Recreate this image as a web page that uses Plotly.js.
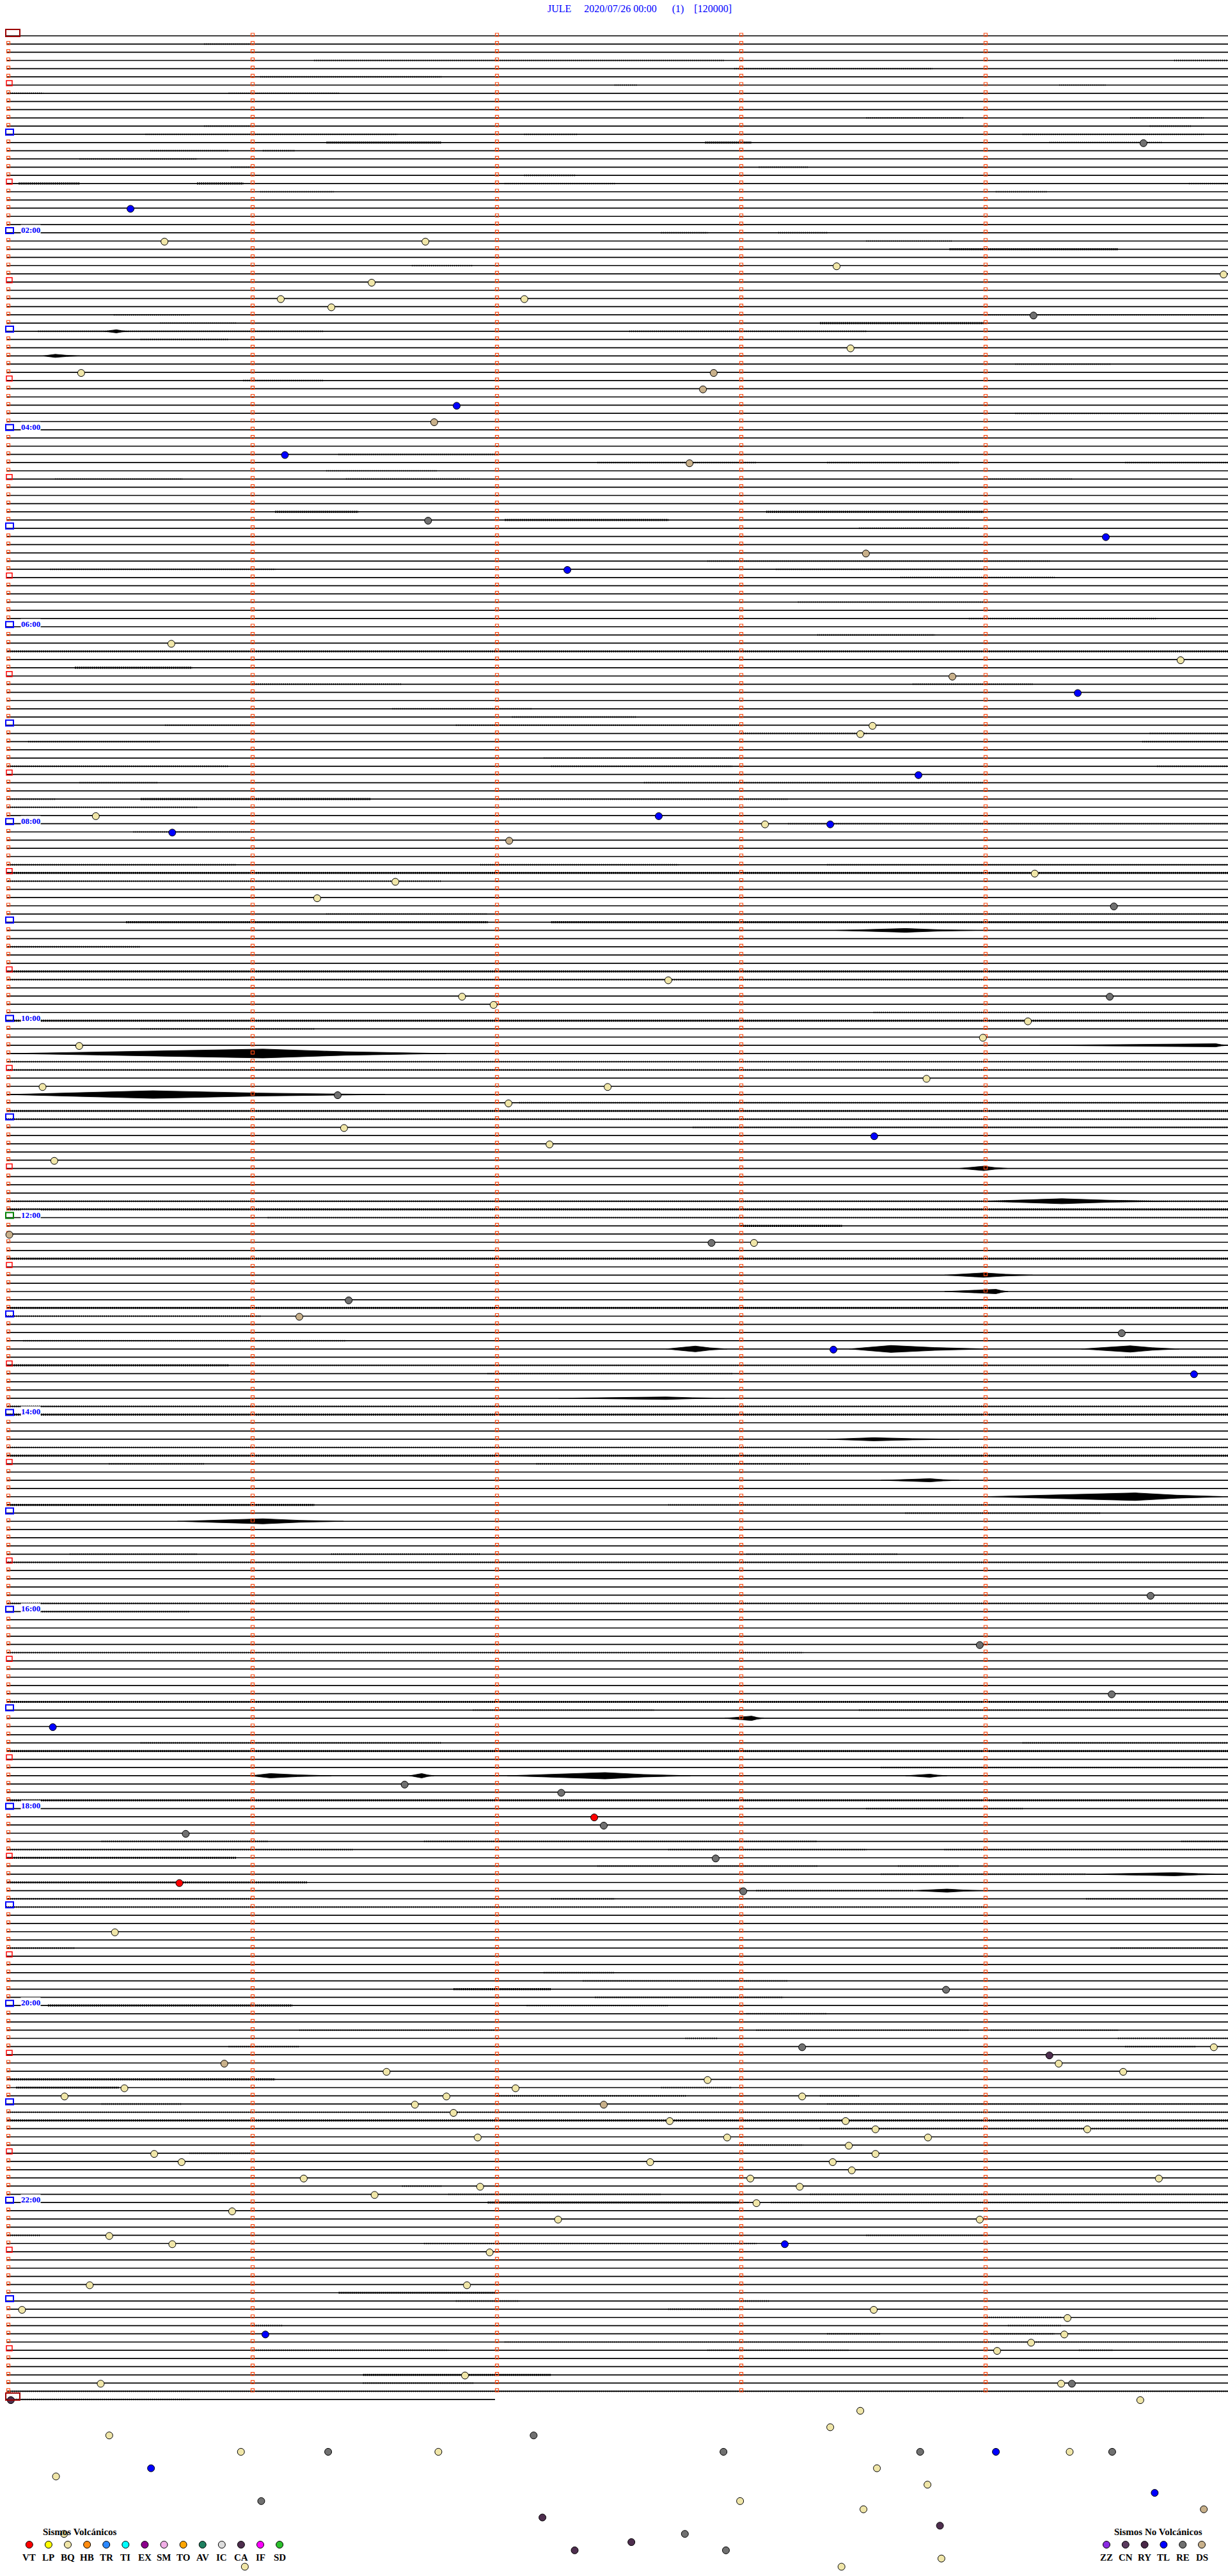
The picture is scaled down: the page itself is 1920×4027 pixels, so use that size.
<!DOCTYPE html>
<html><head><meta charset="utf-8">
<script src="https://cdn.plot.ly/plotly-3.0.1.min.js"></script>
<style>html,body{margin:0;padding:0;background:#fff;overflow:hidden}</style>
</head><body><div id="chart" style="width:1920px;height:4027px"></div>
<script>
// ---------------- data ----------------
const station = "JULE", dateText = "2020/07/26 00:00", runText = "(1)", gainText = "[120000]";
const nRows = 288;            // 5-minute rows in 24 h
const lastRowMinutes = 2.0;   // partial row of the next day
const minuteTicks = [0, 1, 2, 3, 4];
const hourLabelRows = [24, 48, 72, 96, 120, 144, 168, 192, 216, 240, 264];
const hourLabelText = ["02:00", "04:00", "06:00", "08:00", "10:00", "12:00", "14:00", "16:00", "18:00", "20:00", "22:00"];

// events: row (5-min line), minute within the row, type
const evRow = [13,21,25,25,28,29,30,32,32,33,34,38,41,41,43,45,47,
 51,52,59,61,63,65,74,76,78,80,84,85,90,95,95,96,96,97,98,
 102,103,105,106,115,117,117,118,120,122,123,127,128,128,129,130,133,134,135,137,146,147,147,
 154,156,158,160,163,190,196,202,
 206,213,214,217,218,219,222,225,226,231,238,245,245,246,247,247,248,248,249,250,250,251,251,251,252,252,253,254,254,255,255,256,256,256,257,
 258,258,259,259,259,260,261,261,261,262,262,263,264,265,266,266,268,269,269,270,274,274,277,277,278,280,280,281,282,285,286,286,286,288,288,
 289.3,291.3,292.3,292.3,294.3,294.3,294.3,294.3,294.3,294.3,294.3,294.3,296.3,296.3,297.3,298.3,299.3,300.3,300.3,301.3,301.3,302.3,303.3,304.3,304.3,305.3,306.3,306.3,307.3,308.3,308.3];
const evMin = [4.654,0.508,0.647,1.715,3.398,4.982,1.495,1.123,2.120,1.330,4.204,3.455,0.306,2.895,2.851,1.843,1.751,
 1.140,2.796,1.726,4.500,3.518,2.296,0.675,4.806,3.872,4.385,3.545,3.495,3.733,0.366,2.670,3.105,3.372,0.679,2.058,
 4.209,1.592,1.272,4.533,2.709,1.865,4.516,1.994,4.181,3.997,0.298,3.766,0.148,2.461,1.356,2.055,1.382,3.552,2.223,0.196,0.012,2.886,3.060,
 1.401,1.199,4.565,3.385,4.861,4.683,3.984,4.524,
 0.190,1.630,2.271,2.406,2.445,0.734,2.903,0.708,3.016,0.444,3.846,3.257,4.942,4.269,0.892,4.307,1.556,4.571,2.870,0.483,2.084,0.238,1.801,3.257,1.672,2.445,1.830,2.715,3.435,3.557,4.424,1.929,2.950,3.772,3.448,
 0.605,3.557,0.717,2.635,3.382,3.460,1.217,3.045,4.717,1.939,3.247,1.507,3.070,0.924,2.258,3.984,0.421,0.679,3.186,1.978,0.341,1.885,0.064,3.550,4.343,1.060,4.330,4.194,4.055,1.877,0.386,4.317,4.361,0.018,4.641,
 3.495,3.372,0.421,2.158,0.960,1.317,1.768,2.935,3.740,4.050,4.352,4.526,0.592,3.563,0.203,3.770,4.700,1.043,3.003,3.508,4.901,2.194,3.821,2.777,0.236,2.558,2.326,2.945,3.827,0.976,3.418];
const evType = ["RE","TL","BQ","BQ","BQ","BQ","BQ","BQ","BQ","BQ","RE","BQ","BQ","DS","DS","TL","DS",
 "TL","DS","RE","TL","DS","TL","BQ","BQ","DS","TL","BQ","BQ","TL","BQ","TL","BQ","TL","TL","DS",
 "BQ","BQ","BQ","RE","BQ","BQ","RE","BQ","BQ","BQ","BQ","BQ","BQ","BQ","RE","BQ","BQ","TL","BQ","BQ","DS","RE","BQ",
 "RE","DS","RE","TL","TL","RE","RE","RE",
 "TL","RE","RE","VT","RE","RE","RE","VT","RE","BQ","RE","RE","BQ","CA","DS","BQ","BQ","BQ","BQ","BQ","BQ","BQ","BQ","BQ","BQ","DS","BQ","BQ","BQ","BQ","BQ","BQ","BQ","BQ","BQ",
 "BQ","BQ","BQ","BQ","BQ","BQ","BQ","BQ","BQ","BQ","BQ","BQ","BQ","BQ","BQ","BQ","BQ","BQ","TL","BQ","BQ","BQ","BQ","BQ","BQ","TL","BQ","BQ","BQ","BQ","BQ","BQ","RE","CA","BQ",
 "BQ","BQ","BQ","RE","BQ","RE","BQ","RE","RE","TL","BQ","RE","TL","BQ","BQ","BQ","TL","RE","BQ","BQ","DS","CA","CA","RE","BQ","CA","CA","RE","BQ","BQ","BQ"];

// seismic bursts: row, start minute, end minute, peak minute, half amplitude (px)
const burstRow  = [124,129,160,160,160,178,181,212,212,212,212,142,138,151,153,109,171,176,166,205,224,226,36,39,123];
const burstFrom = [0.02,0.00,2.70,3.45,4.40,4.00,0.70,1.00,1.65,2.05,3.68,4.00,3.90,3.84,3.84,3.39,3.36,3.58,2.26,2.94,4.42,3.71,0.40,0.15,4.23];
const burstTo   = [1.80,1.55,2.95,4.02,4.80,5.00,1.38,1.33,1.75,2.80,3.85,4.75,4.10,4.20,4.10,3.97,3.90,3.90,2.94,3.10,5.00,4.00,0.50,0.30,5.00];
const burstPeak = [1.05,0.60,2.82,3.62,4.60,4.62,1.05,1.08,1.70,2.45,3.78,4.32,4.00,4.00,4.05,3.68,3.55,3.78,2.70,3.05,4.78,3.85,0.45,0.20,4.95];
const burstAmp  = [7,6,4.5,5.5,5,6,4,3.5,3.5,5,2.5,4,3.5,3.5,3.5,3,2.5,2.5,2,3.5,2.5,2.5,2.5,2.5,2.5];

// background noise stretches: row, from minute, to minute, level (1 light, 2 dense)
const noise = [
[1,0.81,1.0,1],[3,1.26,2.94,1],[3,4.78,5,1],[4,2.98,3.79,1],[5,1.04,1.78,1],[6,2.49,2.58,1],[6,4.31,4.5,1],[7,0,0.15,1],[7,0.91,1.36,1],
[10,3.52,3.92,1],[10,4.6,4.9,1],[11,0.81,1,1],[11,4.68,4.85,1],[12,0.57,1.6,1],[12,2.12,2.34,1],[12,4.16,4.9,1],[13,1.31,1.78,2],[13,2.86,3.05,2],[13,4.27,4.73,1],
[14,0.59,0.91,1],[14,1.05,1.18,1],[15,0.3,0.78,1],[16,0.92,1,1],[16,3.08,3.28,1],[17,2.12,2.33,1],[18,0.05,0.3,2],[18,0.78,0.97,2],[18,2.04,2.49,1],[18,4.84,5,1],
[19,1.04,1.34,1],[19,4.05,4.26,1],[24,2.68,2.87,1],[24,3.16,3.36,1],[25,3.52,3.87,1],[26,3.86,4.55,2],[28,1.66,1.91,1],[34,0.44,0.75,1],[34,4.02,5,1],
[35,0.63,0.94,1],[35,3.33,4,2],[36,0.13,1.3,1],[36,2.55,3.52,1],[37,0.55,0.91,1],[40,4.13,4.52,1],[42,0.97,1.3,1],[46,4.13,5,1],
[51,1.36,2,1],[52,2.42,3.07,1],[52,3.36,3.9,1],[52,4.58,5,1],[53,1.31,1.76,1],[54,0.2,0.72,1],[54,1.39,1.9,1],[54,4.02,4.36,1],[58,1.1,1.44,2],[58,3.11,4,2],
[59,2.04,2.71,2],[60,3.49,3.94,1],[64,2.87,4.27,1],[65,0.18,1.1,1],[65,3.15,4,1],[66,3.66,4.29,1],[69,3.24,4,1],[71,3.94,4.71,1],[73,3.32,3.8,1],[75,0,5,2],
[77,0.28,0.76,2],[79,1,1.62,1],[79,3.71,4.2,1],[82,1.58,2.15,1],[83,2.07,2.58,1],[84,0.65,1,1],[84,1.84,3,1],[85,3,3.52,1],[85,4.68,5,1],[86,0.09,0.63,1],[86,4.65,5,1],
[88,2.2,3,1],[89,0,0.91,1],[89,2.23,2.97,1],[89,4.71,5,1],[91,0.3,0.62,1],[91,2.61,4,1],[93,0,0.2,1],[93,0.55,1.49,2],[93,2,3.2,1],[94,0,0.78,1],[96,3.2,5,1],[97,0.52,1,1],
[101,0,0.94,1],[101,1.94,2.75,1],[101,3.36,5,1],[102,0,5,2],[103,0,1.78,1],[107,1.31,1.97,1],[107,3.74,5,1],[108,0.49,1.97,2],[108,2.23,5,2],[111,0,0.55,1],
[114,0,5,2],[115,0,5,1],[119,3.55,5,1],[120,0,5,2],[121,0.55,1.26,1],[125,0,5,1],[126,0,5,1],[130,2.1,5,1],[131,0,5,2],[132,0,5,1],[133,2.81,5,1],
[142,0,5,1],[143,0,5,2],[144,1.07,5,1],[145,3,3.42,2],[149,0,5,2],
[155,0,5,2],[156,0,1.04,1],[159,0.07,1.39,1],[161,4.58,5,1],[162,0,0.91,2],[162,0.91,5,1],[163,1.97,2.97,1],[167,0,5,1],[168,0,5,2],[172,0,5,1],[173,0,5,2],
[174,0.42,0.81,1],[174,2.17,3.29,1],[179,0,1.26,2],[179,2.71,5,1],[180,3.68,4.48,1],[185,0.26,0.78,1],[185,1.33,1.94,1],[185,3.03,3.65,1],[186,0,5,1],[191,0,5,1],
[192,0.1,0.75,1],[197,0,3.26,1],[203,0,5,2],[204,1.91,2.65,1],[204,3.49,5,1],
[208,0.55,1.78,1],[208,4.16,5,1],[209,0,5,2],[211,3.58,5,1],[215,0,5,2],[216,3.52,4.16,1],[220,0.39,1.07,1],[220,1.71,3.32,1],[220,4.81,5,1],
[221,0,1.42,1],[221,2.71,3.52,1],[221,3.84,5,1],[222,0,0.94,2],[223,2.42,3.32,1],[223,3.65,3.9,1],[224,3.58,4.42,1],[225,0,1.23,2],[226,3.07,3.71,1],
[227,0,1,1],[227,2.23,2.49,1],[227,4.42,5,1],[228,0,4,1],[233,0,0.28,1],[233,4.52,5,1],[236,2.2,2.49,1],[237,2.36,3.2,1],[238,1.83,2.23,2],[239,2.41,3.18,1],
[240,0.17,1.17,2],[240,2.13,2.71,1],[241,3.03,3.36,1],[243,1.2,2,1],[243,3.07,3.94,1],[243,4.03,4.55,1],[244,2.78,2.91,1],[244,4.55,5,1],[245,0.91,1.2,1],[245,4.58,4.87,1],
[249,0,1.1,2],[250,0.04,0.46,2],[250,2.68,2.97,1],[251,2,2.78,1],[251,3.33,3.49,1],[252,0.39,0.72,1],[252,3.36,5,1],[253,0,5,1],[254,0,5,2],[255,3.33,5,1],
[257,3,3.26,1],[258,0.75,1,1],[262,1.62,1.78,1],[263,1.81,2.68,1],[263,3.29,5,1],[264,1.97,3,2],[264,3.13,5,1],[268,0,0.14,1],[268,3.52,4,1],[269,1.71,3.07,1],
[275,1.36,2,2],[276,1.84,2.1,1],[276,3,3.12,1],[277,2.71,3,1],[278,4,4.32,1],[279,1,1.13,1],[279,4.1,4.32,1],[280,3.36,3.58,1],[280,4.03,4.29,1],[281,2.04,5,1],
[282,1,1.81,1],[282,2.87,3.45,1],[282,4.39,4.53,1],[285,1.46,2.23,2],[286,1.46,1.91,1],[287,0,5,1],[288,0,0.75,1]];

// legends
const volcCodes  = ["VT","LP","BQ","HB","TR","TI","EX","SM","TO","AV","IC","CA","IF","SD"];
const volcColors = ["#ff0000","#ffff00","#f0e6a8","#ff8c10","#2a88ff","#00ffff","#8b008b","#f0aee6","#ffa500","#1f8060","#dcdcdc","#4e2e4e","#ff00ff","#2cc02c"];
const nonVolcCodes  = ["ZZ","CN","RY","TL","RE","DS"];
const nonVolcColors = ["#8a2be2","#5a3a5e","#4a2848","#0000ff","#707070","#c8b08a"];

// ---------------- layout helpers ----------------
const W = 1920, H = 4027, X0 = 10, PXMIN = 382, Y0 = 56, PXROW = 12.83;
const toX = px => (px - X0) / PXMIN;
const toY = py => (py - Y0) / PXROW;
const dxp = p => p / PXMIN, dyp = p => p / PXROW;
const colorOf = {};
volcCodes.forEach((c, i) => colorOf[c] = volcColors[i]);
nonVolcCodes.forEach((c, i) => colorOf[c] = nonVolcColors[i]);

const traces = [];

// base lines
const lx = [], ly = [];
for (let r = 0; r < nRows; r++) { lx.push(0, 5, null); ly.push(r, r, null); }
lx.push(0, lastRowMinutes); ly.push(nRows, nRows);
traces.push({type: "scatter", mode: "lines", x: lx, y: ly, line: {color: "#000", width: 1.7}, hoverinfo: "skip"});

// noise stretches
[1, 2].forEach(level => {
  const nx = [], ny = [];
  noise.filter(s => s[3] === level).forEach(s => { nx.push(s[1], s[2], null); ny.push(s[0], s[0], null); });
  traces.push({type: "scatter", mode: "lines", x: nx, y: ny, hoverinfo: "skip",
    line: {color: "#000", width: level === 1 ? 2.6 : 3.2, dash: level === 1 ? "1px,2px" : "2px,1px"}});
});

// bursts
burstRow.forEach((r, i) => {
  const a = dyp(burstAmp[i]), m0 = burstFrom[i], m1 = burstTo[i], p = burstPeak[i];
  const xs = [m0, m0 + 0.35 * (p - m0), p, p + 0.45 * (m1 - p), m1, p + 0.45 * (m1 - p), p, m0 + 0.35 * (p - m0), m0];
  const ys = [r, r - 0.35 * a, r - a, r - 0.4 * a, r, r + 0.4 * a, r + a, r + 0.35 * a, r];
  traces.push({type: "scatter", mode: "lines", x: xs, y: ys, fill: "toself", fillcolor: "#000",
    line: {color: "#000", width: 0.8}, hoverinfo: "skip"});
});

// minute marks
const mx = [], my = [];
for (let r = 0; r < nRows; r++) {
  minuteTicks.forEach(m => {
    if (m === 0 && r % 6 === 0) return;
    mx.push(m + dxp(3)); my.push(r - dyp(1.5));
  });
}
traces.push({type: "scatter", mode: "markers", x: mx, y: my, hoverinfo: "skip",
  marker: {symbol: "square-open", size: 5, color: "#ff4a12", line: {width: 1.2, color: "#ff4a12"}}});

// events
traces.push({type: "scatter", mode: "markers", x: evMin, y: evRow.map(r => r + 0.08),
  text: evType, hoverinfo: "text",
  marker: {size: 11, color: evType.map(t => colorOf[t]), line: {color: "#000", width: 1}}});

// legend markers
const legY = 3978;
traces.push({type: "scatter", mode: "markers", hoverinfo: "skip",
  x: volcCodes.map((c, i) => toX(45.8 + 30.1 * i)), y: volcCodes.map(() => toY(legY)),
  marker: {size: 11, color: volcColors, line: {color: "#000", width: 1}}});
traces.push({type: "scatter", mode: "markers", hoverinfo: "skip",
  x: nonVolcCodes.map((c, i) => toX(1730 + 29.8 * i)), y: nonVolcCodes.map(() => toY(legY)),
  marker: {size: 11, color: nonVolcColors, line: {color: "#000", width: 1}}});

// row-start boxes
const shapes = [];
function box(r, x0, x1, top, color, w) {
  shapes.push({type: "rect", xref: "x", yref: "y", x0: toX(x0), x1: toX(x1),
    y0: r - dyp(top), y1: r + dyp(1), line: {color: color, width: w}, fillcolor: "rgba(0,0,0,0)"});
}
for (let r = 0; r <= nRows; r += 6) {
  if (r % (nRows) === 0) box(r, 9, 31, 10, "#9a0000", 2);
  else if (r % 12 === 0) box(r, 9, 21, 8, r === 144 ? "#008000" : "#0000ff", 2);
  else box(r, 10, 19, 7, "#ff0000", 1.5);
}

// annotations
const ann = [];
hourLabelRows.forEach((r, i) => ann.push({xref: "x", yref: "y", x: toX(32), y: r, xanchor: "left", yanchor: "bottom",
  yshift: -4, text: "<b>" + hourLabelText[i] + "</b>", showarrow: false, bgcolor: "#fff", borderpad: 0,
  font: {family: "Liberation Serif, serif", size: 13, color: "#0000ff"}}));
const serif = "Liberation Serif, Times New Roman, serif";
const py = p => 1 - p / H;
ann.push({xref: "paper", yref: "paper", x: 125 / W, y: py(3958), text: "<b>Sismos Volcánicos</b>", showarrow: false,
  xanchor: "center", yanchor: "middle", font: {family: serif, size: 15, color: "#000"}});
ann.push({xref: "paper", yref: "paper", x: 1811 / W, y: py(3958), text: "<b>Sismos No Volcánicos</b>", showarrow: false,
  xanchor: "center", yanchor: "middle", font: {family: serif, size: 15, color: "#000"}});
volcCodes.forEach((c, i) => ann.push({xref: "paper", yref: "paper", x: (45.8 + 30.1 * i) / W, y: py(3998), text: "<b>" + c + "</b>",
  showarrow: false, xanchor: "center", yanchor: "middle", font: {family: serif, size: 15, color: "#000"}}));
nonVolcCodes.forEach((c, i) => ann.push({xref: "paper", yref: "paper", x: (1730 + 29.8 * i) / W, y: py(3998), text: "<b>" + c + "</b>",
  showarrow: false, xanchor: "center", yanchor: "middle", font: {family: serif, size: 15, color: "#000"}}));

const sp = n => "\u00a0".repeat(n);
const layout = {
  width: W, height: H, margin: {l: 0, r: 0, t: 0, b: 0, pad: 0},
  paper_bgcolor: "#fff", plot_bgcolor: "#fff", showlegend: false,
  title: {text: station + sp(5) + dateText + sp(6) + runText + sp(4) + gainText,
    x: 1000 / W, xref: "container", xanchor: "center", y: 1 - 13 / H, yref: "container", yanchor: "middle",
    font: {family: serif, size: 16, color: "#0000ff"}},
  xaxis: {range: [toX(0), toX(W)], visible: false, fixedrange: true},
  yaxis: {range: [toY(H), toY(0)], visible: false, fixedrange: true},
  shapes: shapes, annotations: ann
};
Plotly.newPlot("chart", traces, layout, {displayModeBar: false, staticPlot: true});
</script></body></html>
